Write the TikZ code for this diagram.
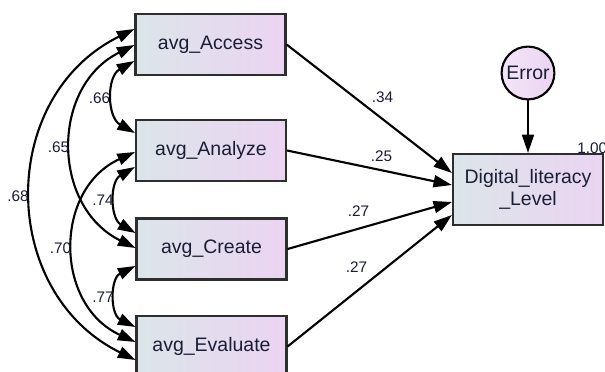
\documentclass[tikz,border=0pt]{standalone}
\usepackage{fontspec}
\setmainfont{Liberation Sans}
\usetikzlibrary{arrows.meta,calc}
\definecolor{txt}{HTML}{1A1D36}
\definecolor{fillL}{HTML}{DCE5E9}
\definecolor{fillR}{HTML}{EBD4F2}
\definecolor{edge}{HTML}{2E2E2E}
\begin{document}
\begin{tikzpicture}[x=0.025cm,y=-0.025cm,
 obs/.style={draw=edge, line width=1.5pt, left color=fillL, right color=fillR,
   minimum width=3.75cm, minimum height=1.525cm, inner sep=0pt,
   font=\fontsize{13.86}{15.3}\selectfont, text=txt},
 err/.style={circle, draw=black, line width=1.5pt, left color=fillR!60!white, right color=fillR,
   minimum size=1.32cm, inner sep=0pt, font=\fontsize{13.86}{15.3}\selectfont, text=txt},
 lab/.style={font=\fontsize{10.9}{12}\selectfont, text=txt, inner sep=0pt},
 pth/.style={draw=black, line width=1.5pt, -{Triangle[length=0.46cm,width=0.3cm]}},
 cov/.style={draw=black, line width=1.5pt,
   {Triangle[length=0.44cm,width=0.29cm]}-{Triangle[length=0.44cm,width=0.29cm]}},
]
\fill[white] (0,0) rectangle (605,372);
\useasboundingbox (0,0) rectangle (605,372);

% observed variables
\node[obs] (acc) at (210.5,44.5) {avg\_Access};
\node[obs] (ana) at (211,150.5) {avg\_Analyze};
\node[obs] (cre) at (211.5,249) {avg\_Create};
\node[obs] (eva) at (211.5,346.5) {avg\_Evaluate};
\node[obs, minimum height=1.775cm, align=center] (dig) at (528,189.5) {Digital\_literacy\\\_Level};
\node[err] (e) at (528,73) {Error};

% regression paths
\draw[pth] (acc.east) -- ($(dig.west)+(0,-16.5)$);
\draw[pth] (ana.east) -- ($(dig.west)+(0,-4.5)$);
\draw[pth] (cre.east) -- ($(dig.west)+(0,12.5)$);
\draw[pth] (eva.east) -- ($(dig.west)+(0,25.5)$);
\draw[pth] (e.south) -- (dig.north);

% covariances
\draw[cov] ($(acc.west)+(0,-15.5)$) .. controls +(-137.4,67.7) and +(-137.4,-67.7) .. ($(eva.west)+(0,13.5)$);
\draw[cov] ($(acc.west)+(0,0.5)$) .. controls +(-84,41.6) and +(-84,-41.6) .. ($(cre.west)+(0,-1)$);
\draw[cov] ($(acc.west)+(0,16.5)$) .. controls +(-28,15.8) and +(-28,-15.8) .. ($(ana.west)+(0,-17.5)$);
\draw[cov] ($(ana.west)+(0,1.5)$) .. controls +(-81.4,37.3) and +(-81.4,-37.3) .. ($(eva.west)+(0,-4.5)$);
\draw[cov] ($(ana.west)+(0,16.5)$) .. controls +(-25.3,14.7) and +(-25.3,-14.7) .. ($(cre.west)+(0,-16)$);
\draw[cov] ($(cre.west)+(0,17)$) .. controls +(-25.4,12.5) and +(-25.4,-12.5) .. ($(eva.west)+(0,-19.5)$);

% labels
\node[lab] (l66) at (99.5,98) {.66};
\node[lab] (l65) at (58.5,147.5) {.65};
\node[lab] (l68) at (18,196) {.68};
\node[lab] (l74) at (103,200) {.74};
\node[lab] (l70) at (60.5,248.5) {.70};
\node[lab] (l77) at (103,297.5) {.77};
\node[lab] (l34) at (382.5,97.5) {.34};
\node[lab] (l25) at (381.5,156.5) {.25};
\node[lab] (l27a) at (358.5,211) {.27};
\node[lab] (l27b) at (356.5,267) {.27};
\node[lab, anchor=west] (l100) at (577,148.5) {1.00};
\end{tikzpicture}
\end{document}
